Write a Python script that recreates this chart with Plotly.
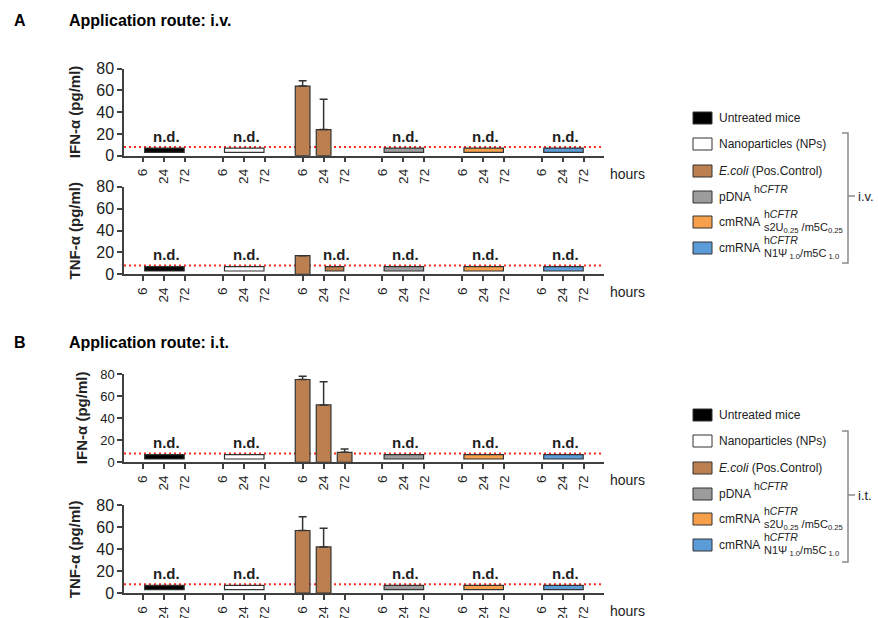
import plotly.graph_objects as go

# ---------------- data ----------------
HOURS = ["6", "24", "72"]
GROUPS = ["Untreated mice", "Nanoparticles (NPs)", "E.coli (Pos.Control)",
          "pDNA hCFTR", "cmRNA s2U0.25/m5C0.25", "cmRNA N1Psi1.0/m5C1.0"]
COLORS = ["#000000", "#ffffff", "#bc8050", "#9c9c9c", "#f6a04c", "#5b9bd8"]

# E.coli (positive control) cytokine levels, pg/ml (None = not detected)
ECOLI_IFN_IV = [64, 24, None]
ECOLI_IFN_IV_SD = [5, 28, None]
ECOLI_TNF_IV = [17, None, None]
ECOLI_TNF_IV_SD = [None, None, None]
ECOLI_IFN_IT = [75, 52, 9]
ECOLI_IFN_IT_SD = [3, 21, 3]
ECOLI_TNF_IT = [57, 42, None]
ECOLI_TNF_IT_SD = [12.5, 17, None]

# n.d. (not detected) hour-index span per group: (first, last) or None
ND_IFN_IV = [(0, 2), (0, 2), None, (0, 2), (0, 2), (0, 2)]
ND_TNF_IV = [(0, 2), (0, 2), (1, 2), (0, 2), (0, 2), (0, 2)]
ND_IFN_IT = [(0, 2), (0, 2), None, (0, 2), (0, 2), (0, 2)]
ND_TNF_IT = [(0, 2), (0, 2), None, (0, 2), (0, 2), (0, 2)]

LOD = 8             # detection limit (dotted line)
ND_LOW, ND_HIGH = 3, 7
Y_TICKS = [0, 20, 40, 60, 80]

# legend texts
LEG_MAIN = ["Untreated mice", "Nanoparticles (NPs)", "<i>E.coli</i> (Pos.Control)",
            "pDNA", "cmRNA", "cmRNA"]
LEG_SUP = [None, None, None, "h<i>CFTR</i>", "h<i>CFTR</i>", "h<i>CFTR</i>"]
LEG_SUB = [None, None, None, None,
           "s2U<sub>0.25</sub> /m5C<sub>0.25</sub>",
           "N1\u03a8<sub> 1.0</sub>/m5C<sub> 1.0</sub>"]

# ---------------- layout helpers ----------------
W, H = 878, 618
FONT = "Liberation Sans, Arial, sans-serif"
INK = "#222222"
AXC = "#404040"
GSTEP = 3.8
BARW = 0.7


def fx(x):
    return x / W


def fy(y):
    return 1 - y / H


panels = [
    dict(top=68.7, bot=155.7, vals=ECOLI_IFN_IV, sd=ECOLI_IFN_IV_SD, nd=ND_IFN_IV,
         title="IFN-\u03b1 (pg/ml)", tx=74, ytf=16),
    dict(top=186.7, bot=274.3, vals=ECOLI_TNF_IV, sd=ECOLI_TNF_IV_SD, nd=ND_TNF_IV,
         title="TNF-\u03b1 (pg/ml)", tx=74, ytf=16),
    dict(top=374.0, bot=462.3, vals=ECOLI_IFN_IT, sd=ECOLI_IFN_IT_SD, nd=ND_IFN_IT,
         title="IFN-\u03b1 (pg/ml)", tx=81, ytf=13),
    dict(top=505.3, bot=593.0, vals=ECOLI_TNF_IT, sd=ECOLI_TNF_IT_SD, nd=ND_TNF_IT,
         title="TNF-\u03b1 (pg/ml)", tx=74, ytf=16),
]

fig = go.Figure()
annotations = []
shapes = []
layout_axes = {}

tickvals = [g * GSTEP + t for g in range(len(GROUPS)) for t in range(len(HOURS))]
ticktext = HOURS * len(GROUPS)

for i, p in enumerate(panels):
    n = "" if i == 0 else str(i + 1)
    xa, ya = "x" + n, "y" + n
    # E.coli bars
    xs = [2 * GSTEP + t for t in range(len(HOURS))]
    sd = [s if s is not None else 0 for s in p["sd"]]
    fig.add_trace(go.Bar(
        x=xs, y=p["vals"], width=[BARW] * 3, xaxis=xa, yaxis=ya,
        marker=dict(color=COLORS[2], line=dict(color="#333333", width=1.2)),
        error_y=dict(type="data", symmetric=False, array=sd, arrayminus=[0, 0, 0],
                     color="#333333", thickness=1.5, width=4),
        showlegend=False, hoverinfo="skip"))
    # n.d. bars + labels
    for g, span in enumerate(p["nd"]):
        if span is None:
            continue
        x0 = g * GSTEP + span[0] + 0.08
        x1 = g * GSTEP + span[1] - 0.04
        fig.add_trace(go.Bar(
            x=[(x0 + x1) / 2], y=[ND_HIGH - ND_LOW], base=[ND_LOW], width=[x1 - x0],
            xaxis=xa, yaxis=ya,
            marker=dict(color=COLORS[g], line=dict(color="#333333", width=1.2)),
            showlegend=False, hoverinfo="skip"))
        annotations.append(dict(
            x=(x0 + x1) / 2 + 0.1, y=18, xref=xa, yref=ya, text="<b>n.d.</b>",
            showarrow=False, font=dict(family=FONT, size=15, color=INK),
            xanchor="center", yanchor="middle"))
    # LOD line
    shapes.append(dict(type="line", xref=xa + " domain", yref=ya, x0=0, x1=1,
                       y0=LOD, y1=LOD, layer="below",
                       line=dict(color="#ff2a1a", width=2, dash="2px,3px")))
    # axes
    layout_axes["xaxis" + n] = dict(
        domain=[fx(124), fx(604)], range=[-0.905, 21.95], anchor=ya,
        showline=True, linecolor=AXC, linewidth=1.5, ticks="outside", ticklen=5,
        tickwidth=1.5, tickcolor=AXC, tickvals=tickvals, ticktext=ticktext,
        tickangle=-90, tickfont=dict(family=FONT, size=13.5, color=INK),
        showgrid=False, zeroline=False, ticklabelstandoff=1, automargin=False)
    layout_axes["yaxis" + n] = dict(
        domain=[fy(p["bot"]), fy(p["top"])], range=[0, 80], anchor=xa,
        showline=True, linecolor=AXC, linewidth=1.5, ticks="outside", ticklen=5,
        tickwidth=1.5, tickcolor=AXC, tickvals=Y_TICKS,
        tickfont=dict(family=FONT, size=p["ytf"], color=INK),
        showgrid=False, zeroline=False, automargin=False)
    # y title
    annotations.append(dict(
        x=fx(p["tx"]), y=fy((p["top"] + p["bot"]) / 2), xref="paper", yref="paper",
        text="<b>" + p["title"] + "</b>", textangle=-90, showarrow=False,
        font=dict(family=FONT, size=15, color=INK), xanchor="center", yanchor="middle"))
    # hours
    annotations.append(dict(
        x=fx(608), y=fy(p["bot"] + 18), xref="paper", yref="paper", text="hours",
        showarrow=False, font=dict(family=FONT, size=14, color=INK),
        xanchor="left", yanchor="middle"))

# headers
for lbl, title, yy in [("A", "Application route: i.v.", 21), ("B", "Application route: i.t.", 342)]:
    annotations.append(dict(x=fx(12), y=fy(yy), xref="paper", yref="paper",
                            text="<b>" + lbl + "</b>", showarrow=False,
                            font=dict(family=FONT, size=16, color="#000"),
                            xanchor="left", yanchor="middle"))
    annotations.append(dict(x=fx(67), y=fy(yy), xref="paper", yref="paper",
                            text="<b>" + title + "</b>", showarrow=False,
                            font=dict(family=FONT, size=16, color="#000"),
                            xanchor="left", yanchor="middle"))

# legends
ROW_Y = [118, 144, 171, 197, 222, 248]
SUP_X = [None, None, None, 752, 762, 762]
for off, route, bracket in [(0, "i.v.", (133, 196, 263)), (297, "i.t.", (431, 495, 562))]:
    for k in range(len(GROUPS)):
        yc = ROW_Y[k] + off
        shapes.append(dict(type="rect", xref="paper", yref="paper",
                           x0=fx(693), x1=fx(712), y0=fy(yc + 6), y1=fy(yc - 6),
                           fillcolor=COLORS[k], line=dict(color="#333333", width=1)))
        annotations.append(dict(x=fx(717), y=fy(yc), xref="paper", yref="paper",
                                text=LEG_MAIN[k], showarrow=False,
                                font=dict(family=FONT, size=12, color=INK),
                                xanchor="left", yanchor="middle"))
        if LEG_SUP[k]:
            annotations.append(dict(x=fx(SUP_X[k]), y=fy(yc - 8), xref="paper", yref="paper",
                                    text=LEG_SUP[k], showarrow=False,
                                    font=dict(family=FONT, size=10.5, color=INK),
                                    xanchor="left", yanchor="middle"))
        if LEG_SUB[k]:
            annotations.append(dict(x=fx(SUP_X[k]), y=fy(yc + 6), xref="paper", yref="paper",
                                    text=LEG_SUB[k], showarrow=False,
                                    font=dict(family=FONT, size=11, color=INK),
                                    xanchor="left", yanchor="middle"))
    t, m, b = bracket
    bc = "#8a8a8a"
    shapes.append(dict(type="path", xref="paper", yref="paper",
                       path=f"M {fx(842)},{fy(t)} L {fx(848)},{fy(t)} L {fx(848)},{fy(b)} L {fx(842)},{fy(b)}",
                       line=dict(color=bc, width=1.5)))
    shapes.append(dict(type="line", xref="paper", yref="paper",
                       x0=fx(848), x1=fx(855), y0=fy(m), y1=fy(m),
                       line=dict(color=bc, width=1.5)))
    annotations.append(dict(x=fx(856), y=fy(m), xref="paper", yref="paper", text=route,
                            showarrow=False, font=dict(family=FONT, size=13, color=INK),
                            xanchor="left", yanchor="middle"))

fig.update_layout(
    template="none",
    width=W, height=H, margin=dict(l=0, r=0, t=0, b=0, pad=0, autoexpand=False),
    paper_bgcolor="white", plot_bgcolor="white", barmode="overlay",
    showlegend=False, annotations=annotations, shapes=shapes,
    font=dict(family=FONT, color=INK), **layout_axes)

fig.write_html("out.html", config={"displayModeBar": False},
               post_script="document.body.style.margin='0';"
                           "document.body.style.overflow='hidden';")
